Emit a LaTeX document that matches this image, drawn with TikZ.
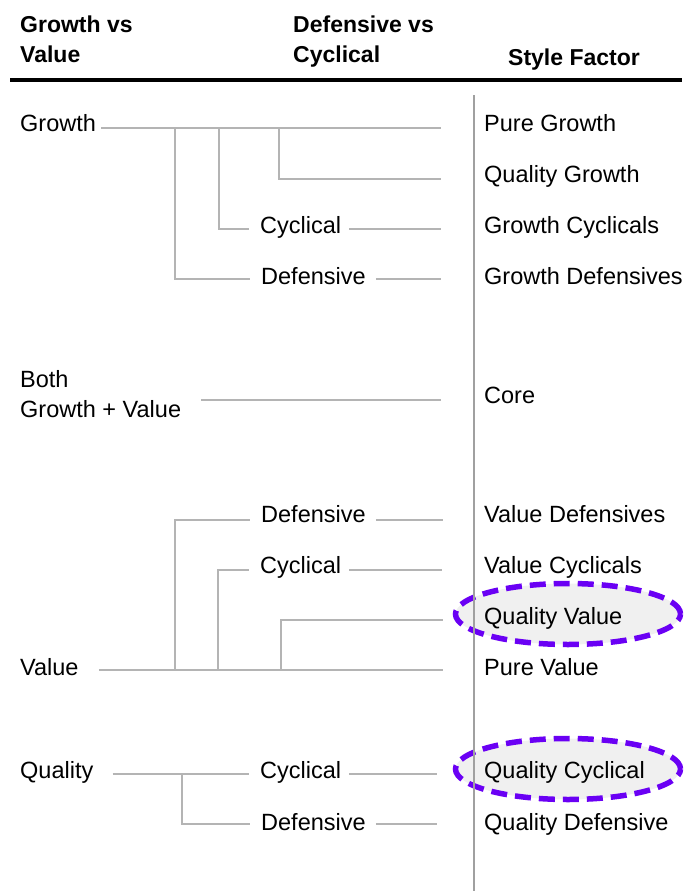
\documentclass[tikz,border=0pt]{standalone}
\usepackage{fontspec}
\setmainfont{Liberation Sans}
\usetikzlibrary{positioning}
\definecolor{linegray}{HTML}{B4B4B4}
\definecolor{sepgray}{HTML}{A0A0A0}
\definecolor{markviolet}{HTML}{6A00F4}
\definecolor{markfill}{HTML}{F0F0F0}
\tikzstyle{branch} = [draw=linegray,line width=2pt]
\tikzstyle{lbl} = [anchor=base west,inner sep=0,font=\fontsize{23.5}{28}\selectfont]
\tikzstyle{head} = [anchor=base west,inner sep=0,font=\fontsize{23}{28}\selectfont\bfseries]
\tikzstyle{highlight} = [draw=markviolet,fill=markfill,line width=5.5pt,dash pattern=on 16pt off 8pt]
\def \gap {11pt}

\begin{document}
\begin{tikzpicture}[x=1pt,y=-1pt]
  \useasboundingbox (0,0) rectangle (688,891);
  % highlighted factors
  \draw[highlight] (568,614) ellipse [x radius=112.5pt, y radius=30.5pt];
  \draw[highlight] (568,769) ellipse [x radius=112.5pt, y radius=30.5pt];
  % header
  \node[head] (h1a) at (20,33) {Growth vs};
  \node[head] (h1b) at (20,63) {Value};
  \node[head] (h2a) at (293,33) {Defensive vs};
  \node[head] (h2b) at (293,63) {Cyclical};
  \node[head] (h3) at (508,66) {Style Factor};
  \coordinate (rl) at (10,80);
  \coordinate (rr) at (682,80);
  \draw[line width=4pt] (rl) -- (rr);
  \coordinate (st) at (474,95);
  \coordinate (sb) at (474,891);
  \draw[draw=sepgray,line width=1.6pt] (st) -- (sb);
  % style factors
  \node[lbl] (pgf) at (484,131.5) {Pure Growth};
  \node[lbl] (qgf) at (484,182.5) {Quality Growth};
  \node[lbl] (gcf) at (484,233.5) {Growth Cyclicals};
  \node[lbl] (gdf) at (484,284.5) {Growth Defensives};
  \node[lbl] (cof) at (484,403.5) {Core};
  \node[lbl] (vdf) at (484,522.5) {Value Defensives};
  \node[lbl] (vcf) at (484,573.5) {Value Cyclicals};
  \node[lbl] (qvf) at (484,624.5) {Quality Value};
  \node[lbl] (pvf) at (484,675.5) {Pure Value};
  \node[lbl] (qcf) at (484,778.5) {Quality Cyclical};
  \node[lbl] (qdf) at (484,830.5) {Quality Defensive};
  % row ends
  \coordinate (pg) at (441,128);
  \coordinate (qg) at (441,179);
  \coordinate (gc) at (441,229);
  \coordinate (gd) at (441,279);
  \coordinate (co) at (441,400);
  \coordinate (vd) at (443,520);
  \coordinate (vc) at (442,570);
  \coordinate (qv) at (443,620);
  \coordinate (pv) at (443,670);
  \coordinate (qc) at (437,774);
  \coordinate (qd) at (437,824);
  % growth
  \node[lbl] (growth) at (20,131.5) {Growth};
  \node[lbl] (gcyc) at (260,233.5) {Cyclical};
  \node[lbl] (gdef) at (261,284.5) {Defensive};
  \draw[branch] ([xshift=5pt]growth.east |- pg) -- (pg);
  \draw[branch] (174.5,128) |- ([xshift=-\gap]gdef.west |- gd);
  \draw[branch] (219,128) |- ([xshift=-\gap]gcyc.west |- gc);
  \draw[branch] (279,128) |- (qg);
  \draw[branch] ([xshift=8pt]gcyc.east |- gc) -- (gc);
  \draw[branch] ([xshift=10pt]gdef.east |- gd) -- (gd);
  % core
  \node[lbl] (both) at (20,387.5) {Both};
  \node[lbl] (bothb) at (20,417.5) {Growth + Value};
  \draw[branch] ([xshift=20pt]bothb.east |- co) -- (co);
  % value
  \node[lbl] (value) at (20,675.5) {Value};
  \node[lbl] (vdef) at (261,522.5) {Defensive};
  \node[lbl] (vcyc) at (260,573.5) {Cyclical};
  \draw[branch] ([xshift=20pt]value.east |- pv) -- (pv);
  \draw[branch] (174.5,670) |- ([xshift=-\gap]vdef.west |- vd);
  \draw[branch] (217.6,670) |- ([xshift=-\gap]vcyc.west |- vc);
  \draw[branch] (281,670) |- (qv);
  \draw[branch] ([xshift=10pt]vdef.east |- vd) -- (vd);
  \draw[branch] ([xshift=8pt]vcyc.east |- vc) -- (vc);
  % quality
  \node[lbl] (quality) at (20,778.5) {Quality};
  \node[lbl] (qcyc) at (260,778.5) {Cyclical};
  \node[lbl] (qdef) at (261,830.5) {Defensive};
  \draw[branch] ([xshift=19pt]quality.east |- qc) -- ([xshift=-\gap]qcyc.west |- qc);
  \draw[branch] (182,774) |- ([xshift=-\gap]qdef.west |- qd);
  \draw[branch] ([xshift=8pt]qcyc.east |- qc) -- (qc);
  \draw[branch] ([xshift=10pt]qdef.east |- qd) -- (qd);
\end{tikzpicture}
\end{document}
